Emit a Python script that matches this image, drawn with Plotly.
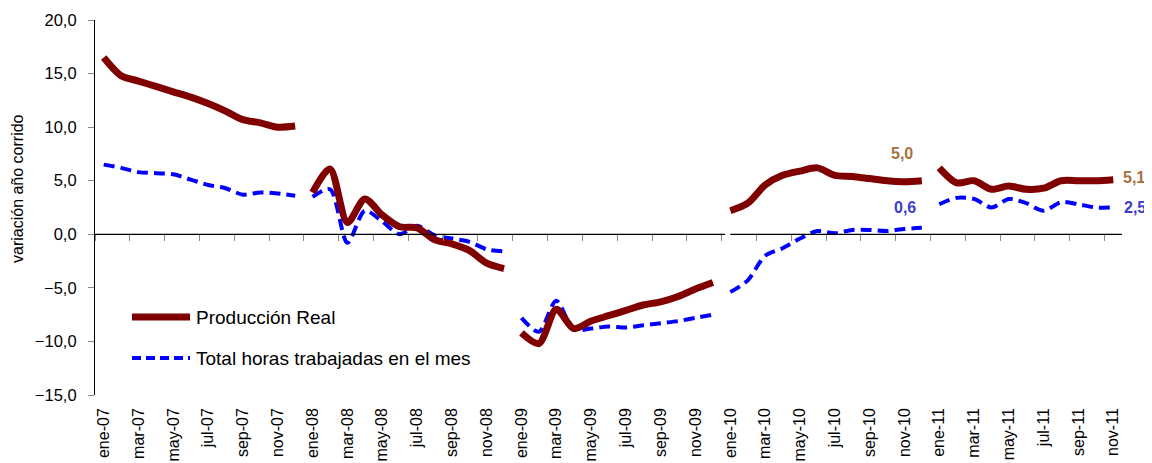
import plotly.graph_objects as go

# ---------------- data ----------------
MESES = ["ene", "feb", "mar", "abr", "may", "jun", "jul", "ago", "sep", "oct", "nov", "dic"]
ANIOS = ["07", "08", "09", "10", "11"]
meses = [f"{m}-{a}" for a in ANIOS for m in MESES][:59]   # ene-07 ... nov-11

produccion_2007 = [16.5, 14.8, 14.3, 13.8, 13.3, 12.8, 12.2, 11.5, 10.7, 10.4, 10.0, 10.1]
produccion_2008 = [3.9, 6.1, 1.1, 3.3, 1.8, 0.7, 0.6, -0.5, -0.9, -1.5, -2.7, -3.2]
produccion_2009 = [-9.2, -10.2, -7.0, -8.8, -8.1, -7.6, -7.1, -6.6, -6.3, -5.8, -5.1, -4.5]
produccion_2010 = [2.2, 2.9, 4.6, 5.5, 5.9, 6.2, 5.5, 5.4, 5.2, 5.0, 4.9, 5.0]
produccion_2011 = [6.2, 4.8, 5.0, 4.2, 4.5, 4.2, 4.3, 5.0, 5.0, 5.0, 5.1]

horas_2007 = [6.5, 6.2, 5.8, 5.7, 5.6, 5.1, 4.6, 4.3, 3.7, 3.9, 3.8, 3.6]
horas_2008 = [3.5, 4.2, -0.8, 2.2, 1.2, 0.0, 0.8, -0.1, -0.4, -0.7, -1.4, -1.6]
horas_2009 = [-7.8, -9.1, -6.2, -8.9, -8.8, -8.6, -8.7, -8.5, -8.3, -8.1, -7.8, -7.5]
horas_2010 = [-5.4, -4.3, -2.0, -1.3, -0.4, 0.3, 0.1, 0.4, 0.4, 0.3, 0.5, 0.6]
horas_2011 = [2.8, 3.4, 3.3, 2.5, 3.3, 2.9, 2.2, 3.0, 2.8, 2.5, 2.5]

serie_prod = "Producción Real"
serie_horas = "Total horas trabajadas en el mes"
y_titulo = "variación año corrido"

# ---------------- style ----------------
ROJO = "#800000"
AZUL = "#0000FF"
ETQ_ROJO = "#A8713F"
ETQ_AZUL = "#3C3CC8"
FONT = "Arial, Liberation Sans, sans-serif"

OFF = 8                      # default page margin of the html body
W, H = 1152 - OFF, 463 - OFF
ML, MR, MT, MB = 95 - OFF, 30, 20 - OFF, 68
PW, PH = W - ML - MR, H - MT - MB

def px2paper(px, py):
    """page-pixel position -> paper coordinates"""
    return (px - OFF - ML) / PW, (MT + PH - (py - OFF)) / PH

fig = go.Figure()

prod_years = [produccion_2007, produccion_2008, produccion_2009, produccion_2010, produccion_2011]
horas_years = [horas_2007, horas_2008, horas_2009, horas_2010, horas_2011]

start = 0
for yr_p, yr_h in zip(prod_years, horas_years):
    xs = meses[start:start + len(yr_p)]
    fig.add_trace(go.Scatter(x=xs, y=yr_h, mode="lines", name=serie_horas,
                             line=dict(color=AZUL, width=4, dash="11px,6px", shape="spline", smoothing=0.8),
                             showlegend=False, hoverinfo="x+y"))
    fig.add_trace(go.Scatter(x=xs, y=yr_p, mode="lines", name=serie_prod,
                             line=dict(color=ROJO, width=7, shape="spline", smoothing=0.8),
                             showlegend=False, hoverinfo="x+y"))
    start += len(yr_p)

# helper (empty) trace that carries the category list for the zero-line tick axis
fig.add_trace(go.Scatter(x=meses, y=[None] * len(meses), xaxis="x2", mode="lines",
                         showlegend=False, hoverinfo="skip"))

def fmt(v):
    return f"{v:.1f}".replace(".", ",")

annots = [
    dict(x=meses[47], y=produccion_2010[-1], text=fmt(produccion_2010[-1]), font=dict(color=ETQ_ROJO),
         xshift=-20, yshift=27),
    dict(x=meses[47], y=horas_2010[-1], text=fmt(horas_2010[-1]), font=dict(color=ETQ_AZUL),
         xshift=-17, yshift=20),
    dict(x=meses[58], y=produccion_2011[-1], text=fmt(produccion_2011[-1]), font=dict(color=ETQ_ROJO),
         xshift=21, yshift=2),
    dict(x=meses[58], y=horas_2011[-1], text=fmt(horas_2011[-1]), font=dict(color=ETQ_AZUL),
         xshift=22, yshift=0),
]
for a in annots:
    a["font"].update(size=16, family=FONT)
    a["text"] = "<b>" + a["text"] + "</b>"
    fig.add_annotation(showarrow=False, xref="x", yref="y", **a)

# manual legend
leg = [(serie_prod, ROJO, 7, "solid", 317), (serie_horas, AZUL, 4, "9px,5px", 358)]
for name, col, w, dash, py in leg:
    x0, y0 = px2paper(132, py)
    x1, _ = px2paper(190, py)
    fig.add_shape(type="line", xref="paper", yref="paper", x0=x0, x1=x1, y0=y0, y1=y0,
                  line=dict(color=col, width=w, dash=dash))
    tx, _ = px2paper(194, py)
    fig.add_annotation(xref="paper", yref="paper", x=tx, y=y0, text=name, showarrow=False,
                       xanchor="left", yanchor="middle", font=dict(size=19, family=FONT, color="#000"))

# y-axis title
tx, ty = px2paper(17, 189)
fig.add_annotation(xref="paper", yref="paper", x=tx, y=ty, text=y_titulo, textangle=-90,
                   showarrow=False, xanchor="center", yanchor="middle",
                   font=dict(size=16, family=FONT, color="#000"))

# zero line (with the small break before ene-10)
for a, b in [(-0.5, 35.7), (36.0, 58.5)]:
    fig.add_shape(type="line", xref="x", yref="y", x0=a, x1=b, y0=0, y1=0,
                  line=dict(color="black", width=1.2), layer="above")

fig.update_layout(
    width=W, height=H,
    margin=dict(l=ML, r=MR, t=MT, b=MB, autoexpand=False),
    paper_bgcolor="white", plot_bgcolor="white",
    separators=",.",
    font=dict(family=FONT, color="black"),
    showlegend=False,
    xaxis=dict(type="category", categoryorder="array", categoryarray=meses,
               range=[-0.5, 58.5], tickmode="linear", tick0=0, dtick=2,
               tickangle=-90, tickfont=dict(size=16), ticks="", showline=False,
               ticklabelstandoff=9, showgrid=False, zeroline=False, automargin=False),
    xaxis2=dict(type="category", categoryorder="array", categoryarray=meses,
                overlaying="x", anchor="free", position=15 / 35, side="bottom",
                range=[-0.5, 58.5], tickmode="linear", tick0=0, dtick=2,
                ticks="outside", ticklen=6, tickcolor="#888888", tickwidth=1,
                tickson="boundaries", showticklabels=False, showline=False,
                showgrid=False, zeroline=False, automargin=False),
    yaxis=dict(range=[-15, 20], tickmode="linear", tick0=-15, dtick=5, tickformat=".1f",
               showline=True, linecolor="black", linewidth=1.2, ticks="outside", ticklen=6,
               tickcolor="#888888", tickfont=dict(size=16.5), showgrid=False, zeroline=False,
               ticklabelstandoff=8, automargin=False),
)

fig.write_html("out.html")
